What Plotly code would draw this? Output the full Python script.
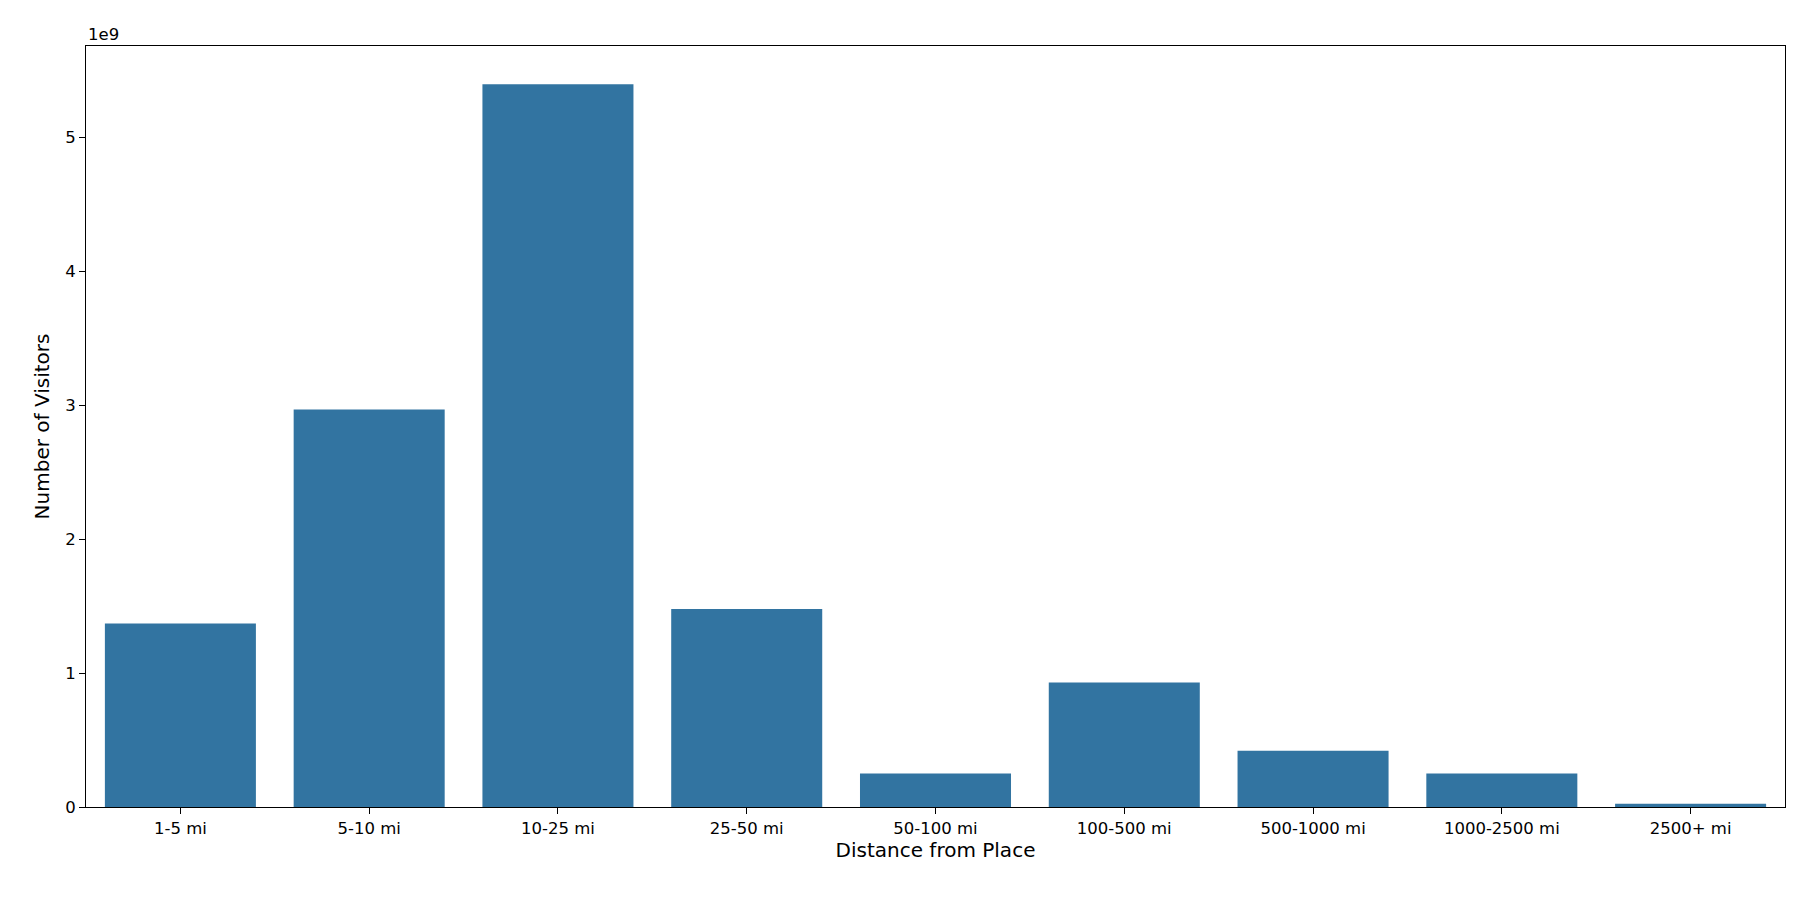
import plotly.graph_objects as go

categories = ["1-5 mi", "5-10 mi", "10-25 mi", "25-50 mi", "50-100 mi", "100-500 mi", "500-1000 mi", "1000-2500 mi", "2500+ mi"]
visitors_1e9 = [1.37, 2.97, 5.40, 1.48, 0.25, 0.93, 0.42, 0.25, 0.025]

fig = go.Figure(go.Bar(x=categories, y=visitors_1e9, marker_color="#3274a1", marker_line_width=0, width=0.8))
axis_common = dict(showline=True, linecolor="black", linewidth=1, mirror=True, ticks="outside",
                   tickcolor="black", ticklen=6, showgrid=False, zeroline=False,
                   tickfont=dict(family="DejaVu Sans", size=16.5, color="black"))
fig.update_xaxes(range=[-0.5, 8.5], title=dict(text="Distance from Place", standoff=6, font=dict(family="DejaVu Sans", size=20, color="black")), **axis_common)
fig.update_yaxes(range=[0, 5.685], tickvals=[0, 1, 2, 3, 4, 5], title=dict(text="Number of Visitors", standoff=10, font=dict(family="DejaVu Sans", size=20, color="black")), **axis_common)
fig.add_annotation(text="1e9", xref="paper", yref="paper", x=0, y=1, xanchor="left", yanchor="bottom",
                   showarrow=False, font=dict(family="DejaVu Sans", size=16.5, color="black"))
fig.update_layout(width=1800, height=900, plot_bgcolor="white", paper_bgcolor="white",
                  margin=dict(l=78, r=23, t=38, b=101), showlegend=False)
fig.write_html("out.html")
